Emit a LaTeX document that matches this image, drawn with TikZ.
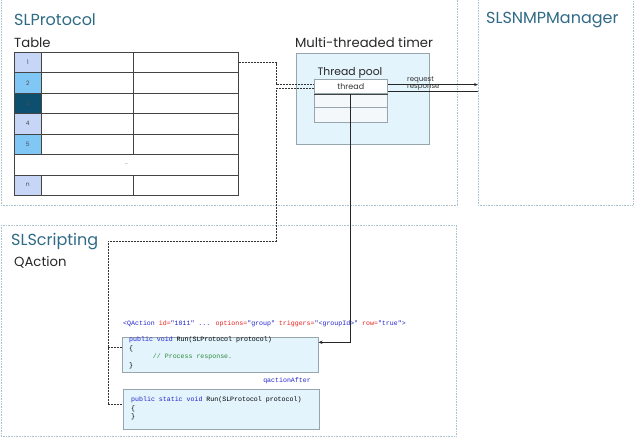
\documentclass[tikz,border=0pt]{standalone}
\usepackage{fontspec}
\setmainfont{Poppins}
\newfontfamily\codefont{Liberation Mono}
\usetikzlibrary{arrows.meta}
\definecolor{panelline}{HTML}{A9C3D1}
\definecolor{titleblue}{HTML}{2F6A86}
\definecolor{boxfill}{HTML}{E3F4FD}
\definecolor{boxline}{HTML}{97A5AE}
\definecolor{gridline}{HTML}{444444}
\definecolor{idxA}{HTML}{C7D6F6}
\definecolor{idxB}{HTML}{80C7F6}
\definecolor{idxC}{HTML}{0D4F6E}
\definecolor{kwblue}{HTML}{2222CC}
\definecolor{cmtgreen}{HTML}{2E8B3A}
\definecolor{attrred}{HTML}{E8201E}
\definecolor{poolrow}{HTML}{F4F8FA}
\tikzset{
  panel/.style={draw=panelline, densely dotted, line width=0.6pt},
  title/.style={anchor=west, text=titleblue, font=\fontsize{16}{18}\selectfont, inner sep=0},
  subtitle/.style={anchor=west, text=black!85, font=\fontsize{13.2}{15}\selectfont, inner sep=0},
  cell/.style={draw=gridline, line width=0.6pt, anchor=north west, minimum height=20.43pt, inner sep=0, fill=white},
  idxcell/.style={cell, minimum width=27pt, font=\fontsize{6}{7}\selectfont, text=black!70},
  poolcell/.style={draw=boxline, line width=0.6pt, anchor=north west, minimum width=73pt, inner sep=0},
  codebox/.style={draw=boxline, fill=boxfill, line width=0.6pt, anchor=north west, inner sep=0},
  code/.style={font=\codefont\fontsize{6.6}{8.7}\selectfont, align=left, anchor=north west, inner sep=0},
  dashline/.style={draw=black!80, line width=0.5pt, dash pattern=on 2pt off 1pt},
  small/.style={font=\fontsize{7}{8}\selectfont, text=black!80, inner sep=0}
}
\begin{document}
\begin{tikzpicture}[x=1pt, y=-1pt]
\useasboundingbox (0,0) rectangle (639,439);
% panels
\draw[panel] (1,-3) rectangle (457,205);
\draw[panel] (478,-3) rectangle (633,205);
\draw[panel] (1,225) rectangle (456,436);
\node[title] (tprot) at (14,20) {SLProtocol};
\node[title] (tsnmp) at (486,20) {SLSNMPManager};
\node[title] (tscr) at (11,242) {SLScripting};
\node[subtitle] (ttable) at (14,43) {Table};
\node[subtitle] (tqa) at (14,262) {QAction};
\node[subtitle, anchor=center] (ttimer) at (364,43) {Multi-threaded timer};
% table
\foreach \r/\lab/\col in {1/1/idxA, 2/2/idxB, 3/3/idxC, 4/4/idxA, 5/5/idxB}{
  \pgfmathsetmacro{\yy}{52+20.43*(\r-1)}
  \node[idxcell, fill=\col] (i\r) at (14,\yy) {\lab};
  \node[cell, minimum width=92pt] (a\r) at (41,\yy) {};
  \node[cell, minimum width=105pt] (b\r) at (133,\yy) {};
  \draw[gridline, line width=1pt] (i\r.north east) -- (i\r.south east);
}
\node[cell, minimum width=224pt, font=\fontsize{5}{6}\selectfont, text=black!60] (rdots) at (14,154.15) {…};
\node[idxcell, fill=idxA] (in) at (14,174.58) {n};
\node[cell, minimum width=92pt] (an) at (41,174.58) {};
\node[cell, minimum width=105pt] (bn) at (133,174.58) {};
\draw[gridline, line width=1pt] (in.north east) -- (in.south east);
% timer
\node[draw=boxline, fill=boxfill, line width=0.6pt, anchor=north west, minimum width=133pt, minimum height=91pt, inner sep=0] (timer) at (296,53) {};
\node[font=\fontsize{10.8}{12}\selectfont, text=black!85, inner sep=0] (tpool) at (350,73) {Thread pool};
\node[poolcell, fill=white, minimum height=14pt, font=\fontsize{8}{9}\selectfont, text=black!80] (thread) at (314,79.3) {thread};
\node[poolcell, fill=poolrow, minimum height=14pt] (p2) at (314,93.3) {};
\node[poolcell, fill=poolrow, minimum height=15pt] (p3) at (314,107.3) {};
\draw[gridline, line width=0.6pt] (thread.south west) -- (thread.south east);
% request / response
\coordinate (snmpL) at (478,84);
\draw[black!85, line width=0.6pt, -{Stealth[length=4pt,width=3pt]}] ([yshift=2pt]thread.east) -- ([yshift=2pt]thread.east -| snmpL);
\draw[black!85, line width=0.6pt] ([yshift=-4.5pt]thread.east -| snmpL) -- ([yshift=-4.5pt]thread.east);
\node[small, anchor=west] (lreq) at (407,80.5) {request};
\node[small, anchor=west] (lresp) at (407,87.5) {response};
% code boxes
\node[codebox, minimum width=196pt, minimum height=35pt] (box1) at (122,337) {};
\node[codebox, minimum width=196pt, minimum height=40pt] (box2) at (123,389) {};
\node[code] (hdr) at (123,321) {\textcolor{kwblue}{<QAction} \textcolor{attrred}{id=}\textcolor{kwblue}{"1011" ...} \textcolor{attrred}{options=}\textcolor{kwblue}{"group"} \textcolor{attrred}{triggers=}\textcolor{kwblue}{"<groupId>"} \textcolor{attrred}{row=}\textcolor{kwblue}{"true">}};
\node[code] (code1) at (129,336.5) {\textcolor{kwblue}{public void} Run(SLProtocol protocol)\\{\{}\\\phantom{xxxxxx}\textcolor{cmtgreen}{// Process response.}\\{\}}};
\node[code, text=kwblue, anchor=north east] (qafter) at (311,378) {qactionAfter};
\node[code] (code2) at (131,396.5) {\textcolor{kwblue}{public static void} Run(SLProtocol protocol)\\{\{}\\{\}}};
% dashed connectors
\coordinate (bendA) at (276,84);
\coordinate (d1) at (276,241);
\coordinate (d2) at (108,241);
\coordinate (in1) at ([yshift=8pt]box1.west);
\coordinate (in2) at ([yshift=5pt]box2.west);
\draw[dashline] (b1.east) -| (bendA) -- (bendA -| thread.west);
\draw[dashline] ([yshift=-2pt]thread.west) -| (d1) -- (d2) |- (in2);
\draw[dashline] (d2 |- in1) -- (in1);
% solid connector
\coordinate (tgt1) at ([yshift=12.5pt]box1.east);
\draw[black!85, line width=0.7pt, -{Stealth[length=4pt,width=3.5pt]}] (thread.south) |- (tgt1);
\end{tikzpicture}
\end{document}
